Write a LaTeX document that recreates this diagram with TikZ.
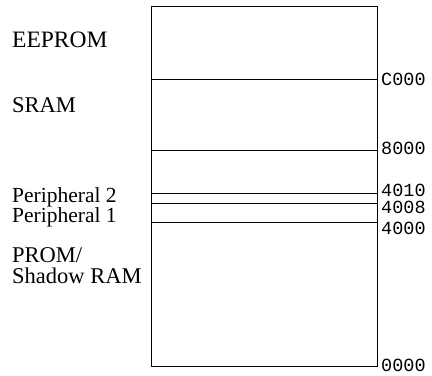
\documentclass[tikz,border=0pt]{standalone}
\usepackage{fontspec}
\setmainfont{Liberation Serif}
\setmonofont{Liberation Mono}
\usepackage{tikz}
\usetikzlibrary{positioning}

\begin{document}
\begin{tikzpicture}[x=1bp, y=1bp]

  \tikzstyle{region} = [
    inner sep=0pt, anchor=base west,
    font=\fontsize{22.5bp}{27bp}\selectfont
  ]
  \tikzstyle{smallregion} = [
    region, font=\fontsize{21.5bp}{25bp}\selectfont
  ]
  \tikzstyle{addr} = [
    inner sep=0pt, anchor=west,
    font=\ttfamily\fontsize{18.5bp}{22bp}\selectfont
  ]
  \tikzstyle{border} = [line width=0.9pt, black]

  \useasboundingbox (0,0) rectangle (432,376);

  % memory block
  \coordinate (bl) at (151,10);
  \coordinate (tr) at (377,370);
  \draw[border] (bl) rectangle (tr);

  % boundaries
  \coordinate (c000w) at (151,297); \coordinate (c000e) at (377,297);
  \coordinate (8000w) at (151,226); \coordinate (8000e) at (377,226);
  \coordinate (4010w) at (151,183); \coordinate (4010e) at (377,183);
  \coordinate (4008w) at (151,173); \coordinate (4008e) at (377,173);
  \coordinate (4000w) at (151,154); \coordinate (4000e) at (377,154);

  \draw[border] (c000w) -- (c000e);
  \draw[border] (8000w) -- (8000e);
  \draw[border] (4010w) -- (4010e);
  \draw[border] (4008w) -- (4008e);
  \draw[border] (4000w) -- (4000e);

  % addresses
  \node[addr] (ac000) at (381,297) {C000};
  \node[addr] (a8000) at (381,228) {8000};
  \node[addr] (a4010) at (381,186) {4010};
  \node[addr] (a4008) at (381,169) {4008};
  \node[addr] (a4000) at (381,148) {4000};
  \node[addr] (a0000) at (381,11)  {0000};

  % region names
  \node[region, font=\fontsize{23.5bp}{27bp}\selectfont] (eeprom) at (12,329) {EEPROM};
  \node[region] (sram)   at (12,264) {SRAM};
  \node[smallregion] (per2) at (12,174) {Peripheral 2};
  \node[smallregion] (per1) at (12,154) {Peripheral 1};
  \node[region] (prom)   at (12,114) {PROM/};
  \node[region] (shadow) at (12,93)  {Shadow RAM};

\end{tikzpicture}
\end{document}
